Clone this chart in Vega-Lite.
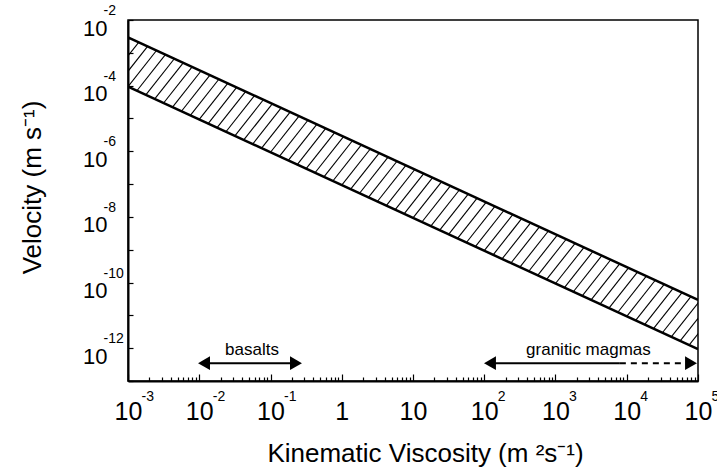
{
  "$schema": "https://vega.github.io/schema/vega-lite/v6.json",
  "width": 570,
  "height": 361,
  "autosize": "none",
  "padding": {"left": 128, "top": 20, "right": 19, "bottom": 94},
  "background": "white",
  "config": {"view": {"stroke": "black", "strokeWidth": 1.5}, "font": "Liberation Sans"},
  "datasets": {
    "hatch": [
      {"x0":4.217e-4,"x1":1.0593e-3,"y0":2.2131e-4,"y1":2.7861e-3},
      {"x0":5.6234e-4,"x1":1.4125e-3,"y0":1.6596e-4,"y1":2.0893e-3},
      {"x0":7.4989e-4,"x1":1.8837e-3,"y0":1.2445e-4,"y1":1.5668e-3},
      {"x0":1e-3,"x1":2.5119e-3,"y0":9.3325e-5,"y1":1.1749e-3},
      {"x0":1.3335e-3,"x1":3.3497e-3,"y0":6.9984e-5,"y1":8.8105e-4},
      {"x0":1.7783e-3,"x1":4.4668e-3,"y0":5.2481e-5,"y1":6.607e-4},
      {"x0":2.3714e-3,"x1":5.9566e-3,"y0":3.9355e-5,"y1":4.9545e-4},
      {"x0":3.1623e-3,"x1":7.9433e-3,"y0":2.9512e-5,"y1":3.7154e-4},
      {"x0":4.217e-3,"x1":1.0593e-2,"y0":2.2131e-5,"y1":2.7861e-4},
      {"x0":5.6234e-3,"x1":1.4125e-2,"y0":1.6596e-5,"y1":2.0893e-4},
      {"x0":7.4989e-3,"x1":1.8837e-2,"y0":1.2445e-5,"y1":1.5668e-4},
      {"x0":1e-2,"x1":2.5119e-2,"y0":9.3325e-6,"y1":1.1749e-4},
      {"x0":1.3335e-2,"x1":3.3497e-2,"y0":6.9984e-6,"y1":8.8105e-5},
      {"x0":1.7783e-2,"x1":4.4668e-2,"y0":5.2481e-6,"y1":6.607e-5},
      {"x0":2.3714e-2,"x1":5.9566e-2,"y0":3.9355e-6,"y1":4.9545e-5},
      {"x0":3.1623e-2,"x1":7.9433e-2,"y0":2.9512e-6,"y1":3.7154e-5},
      {"x0":4.217e-2,"x1":1.0593e-1,"y0":2.2131e-6,"y1":2.7861e-5},
      {"x0":5.6234e-2,"x1":1.4125e-1,"y0":1.6596e-6,"y1":2.0893e-5},
      {"x0":7.4989e-2,"x1":1.8837e-1,"y0":1.2445e-6,"y1":1.5668e-5},
      {"x0":1e-1,"x1":2.5119e-1,"y0":9.3325e-7,"y1":1.1749e-5},
      {"x0":1.3335e-1,"x1":3.3497e-1,"y0":6.9984e-7,"y1":8.8105e-6},
      {"x0":1.7783e-1,"x1":4.4668e-1,"y0":5.2481e-7,"y1":6.607e-6},
      {"x0":2.3714e-1,"x1":5.9566e-1,"y0":3.9355e-7,"y1":4.9545e-6},
      {"x0":3.1623e-1,"x1":7.9433e-1,"y0":2.9512e-7,"y1":3.7154e-6},
      {"x0":4.217e-1,"x1":1.0593,"y0":2.2131e-7,"y1":2.7861e-6},
      {"x0":5.6234e-1,"x1":1.4125,"y0":1.6596e-7,"y1":2.0893e-6},
      {"x0":7.4989e-1,"x1":1.8837,"y0":1.2445e-7,"y1":1.5668e-6},
      {"x0":1,"x1":2.5119,"y0":9.3325e-8,"y1":1.1749e-6},
      {"x0":1.3335,"x1":3.3497,"y0":6.9984e-8,"y1":8.8105e-7},
      {"x0":1.7783,"x1":4.4668,"y0":5.2481e-8,"y1":6.607e-7},
      {"x0":2.3714,"x1":5.9566,"y0":3.9355e-8,"y1":4.9545e-7},
      {"x0":3.1623,"x1":7.9433,"y0":2.9512e-8,"y1":3.7154e-7},
      {"x0":4.217,"x1":10.593,"y0":2.2131e-8,"y1":2.7861e-7},
      {"x0":5.6234,"x1":14.125,"y0":1.6596e-8,"y1":2.0893e-7},
      {"x0":7.4989,"x1":18.837,"y0":1.2445e-8,"y1":1.5668e-7},
      {"x0":10,"x1":25.119,"y0":9.3325e-9,"y1":1.1749e-7},
      {"x0":13.335,"x1":33.497,"y0":6.9984e-9,"y1":8.8105e-8},
      {"x0":17.783,"x1":44.668,"y0":5.2481e-9,"y1":6.607e-8},
      {"x0":23.714,"x1":59.566,"y0":3.9355e-9,"y1":4.9545e-8},
      {"x0":31.623,"x1":79.433,"y0":2.9512e-9,"y1":3.7154e-8},
      {"x0":42.17,"x1":105.93,"y0":2.2131e-9,"y1":2.7861e-8},
      {"x0":56.234,"x1":141.25,"y0":1.6596e-9,"y1":2.0893e-8},
      {"x0":74.989,"x1":188.37,"y0":1.2445e-9,"y1":1.5668e-8},
      {"x0":100,"x1":251.19,"y0":9.3325e-10,"y1":1.1749e-8},
      {"x0":133.35,"x1":334.97,"y0":6.9984e-10,"y1":8.8105e-9},
      {"x0":177.83,"x1":446.68,"y0":5.2481e-10,"y1":6.607e-9},
      {"x0":237.14,"x1":595.66,"y0":3.9355e-10,"y1":4.9545e-9},
      {"x0":316.23,"x1":794.33,"y0":2.9512e-10,"y1":3.7154e-9},
      {"x0":421.7,"x1":1059.3,"y0":2.2131e-10,"y1":2.7861e-9},
      {"x0":562.34,"x1":1412.5,"y0":1.6596e-10,"y1":2.0893e-9},
      {"x0":749.89,"x1":1883.7,"y0":1.2445e-10,"y1":1.5668e-9},
      {"x0":1000,"x1":2511.9,"y0":9.3325e-11,"y1":1.1749e-9},
      {"x0":1333.5,"x1":3349.7,"y0":6.9984e-11,"y1":8.8105e-10},
      {"x0":1778.3,"x1":4466.8,"y0":5.2481e-11,"y1":6.607e-10},
      {"x0":2371.4,"x1":5956.6,"y0":3.9355e-11,"y1":4.9545e-10},
      {"x0":3162.3,"x1":7943.3,"y0":2.9512e-11,"y1":3.7154e-10},
      {"x0":4217,"x1":10593,"y0":2.2131e-11,"y1":2.7861e-10},
      {"x0":5623.4,"x1":14125,"y0":1.6596e-11,"y1":2.0893e-10},
      {"x0":7498.9,"x1":18837,"y0":1.2445e-11,"y1":1.5668e-10},
      {"x0":10000,"x1":25119,"y0":9.3325e-12,"y1":1.1749e-10},
      {"x0":13335,"x1":33497,"y0":6.9984e-12,"y1":8.8105e-11},
      {"x0":17783,"x1":44668,"y0":5.2481e-12,"y1":6.607e-11},
      {"x0":23714,"x1":59566,"y0":3.9355e-12,"y1":4.9545e-11},
      {"x0":31623,"x1":79433,"y0":2.9512e-12,"y1":3.7154e-11},
      {"x0":42170,"x1":105930,"y0":2.2131e-12,"y1":2.7861e-11},
      {"x0":56234,"x1":141250,"y0":1.6596e-12,"y1":2.0893e-11},
      {"x0":74989,"x1":188370,"y0":1.2445e-12,"y1":1.5668e-11},
      {"x0":100000,"x1":251190,"y0":9.3325e-13,"y1":1.1749e-11}
    ],
    "bounds": [
      {"edge":"lower","x":0.001,"y":9.3325e-5},
      {"edge":"lower","x":100000,"y":9.3325e-13},
      {"edge":"upper","x":0.001,"y":2.9512e-3},
      {"edge":"upper","x":100000,"y":2.9512e-11}
    ],
    "arrows": [
      {"name":"basalts","segment":"solid","from":0.01166,"to":0.2279,"v":3.5e-13},
      {"name":"granitic magmas","segment":"solid","from":120.4,"to":8000,"v":3.5e-13},
      {"name":"granitic magmas","segment":"dashed","from":8000,"to":79770,"v":3.5e-13}
    ],
    "heads": [
      {"dir":"left","x":0.01166,"v":3.5e-13},
      {"dir":"right","x":0.2279,"v":3.5e-13},
      {"dir":"left","x":120.4,"v":3.5e-13},
      {"dir":"right","x":79770,"v":3.5e-13}
    ],
    "labels": [
      {"text":"basalts","x":0.055,"v":6.2e-13},
      {"text":"granitic magmas","x":2900,"v":6.2e-13}
    ]
  },
  "resolve": {"axis": {"x": "independent", "y": "independent"}},
  "layer": [
    {
      "data": {"name": "hatch"},
      "mark": {"type": "rule", "clip": true, "color": "black", "strokeWidth": 1.1},
      "encoding": {
        "x": {
          "field": "x0", "type": "quantitative",
          "scale": {"type": "log", "domain": [0.001, 100000], "nice": false},
          "axis": {
            "orient": "bottom",
            "values": [0.001,0.002,0.003,0.004,0.005,0.006,0.007,0.008,0.009,0.01,0.02,0.03,0.04,0.05,0.06,0.07,0.08,0.09,0.1,0.2,0.3,0.4,0.5,0.6,0.7,0.8,0.9,1,2,3,4,5,6,7,8,9,10,20,30,40,50,60,70,80,90,100,200,300,400,500,600,700,800,900,1000,2000,3000,4000,5000,6000,7000,8000,9000,10000,20000,30000,40000,50000,60000,70000,80000,90000,100000],
            "labelExpr": "abs(log(datum.value)/LN10 - round(log(datum.value)/LN10)) < 0.001 ? (abs(datum.value - 1) < 0.001 ? '1' : '10') : ''",
            "labelFontSize": 25, "labelColor": "black", "labelBaseline": "alphabetic",
            "labelPadding": 45, "labelFlush": false, "labelOverlap": false, "labelBound": false,
            "domainColor": "black", "domainWidth": 2,
            "tickColor": "black", "tickWidth": 1.2,
            "tickSize": {"condition": {"test": "abs(log(datum.value)/LN10 - round(log(datum.value)/LN10)) < 0.001", "value": -7}, "value": -4},
            "grid": false,
            "title": "Kinematic Viscosity (m ²s⁻¹)",
            "titleFontSize": 26, "titleFontWeight": "normal", "titleColor": "black",
            "titleX": 297, "titleY": 80, "titleBaseline": "alphabetic"
          }
        },
        "x2": {"field": "x1"},
        "y": {
          "field": "y0", "type": "quantitative",
          "scale": {"type": "log", "domain": [1e-13, 0.01], "nice": false},
          "axis": {
            "orient": "left",
            "values": [1e-13,1e-12,1e-11,1e-10,1e-9,1e-8,1e-7,1e-6,1e-5,1e-4,1e-3,1e-2],
            "labelExpr": "round(log(datum.value)/LN10) % 2 == 0 ? '10' : ''",
            "labelFontSize": 22, "labelColor": "black", "labelAlign": "right", "labelBaseline": "alphabetic",
            "labelOffset": 15, "labelPadding": 26, "labelOverlap": false, "labelFlush": false, "labelBound": false,
            "domainColor": "black", "domainWidth": 2,
            "tickColor": "black", "tickWidth": 1.2, "tickSize": -5,
            "grid": false,
            "title": "Velocity (m s⁻¹)",
            "titleFontSize": 26, "titleFontWeight": "normal", "titleColor": "black",
            "titleX": -88, "titleY": 167, "titleBaseline": "alphabetic"
          }
        },
        "y2": {"field": "y1"}
      }
    },
    {
      "data": {"name": "bounds"},
      "mark": {"type": "line", "color": "black", "strokeWidth": 2.5, "clip": true},
      "encoding": {
        "x": {
          "field": "x", "type": "quantitative",
          "scale": {"type": "log", "domain": [0.001, 100000], "nice": false},
          "axis": {
            "orient": "bottom",
            "values": [0.001,0.01,0.1,100,1000,10000,100000],
            "labelExpr": "'' + round(log(datum.value)/LN10)",
            "labelFontSize": 14, "labelColor": "black", "labelAlign": "left", "labelBaseline": "alphabetic",
            "labelOffset": 13, "labelPadding": 19, "labelFlush": false, "labelOverlap": false, "labelBound": false,
            "domain": false, "ticks": false, "grid": false, "title": null
          }
        },
        "y": {
          "field": "y", "type": "quantitative",
          "scale": {"type": "log", "domain": [1e-13, 0.01], "nice": false},
          "axis": {
            "orient": "left",
            "values": [1e-12,1e-10,1e-8,1e-6,1e-4,1e-2],
            "labelExpr": "'' + round(log(datum.value)/LN10)",
            "labelFontSize": 14, "labelColor": "black", "labelAlign": "left", "labelBaseline": "alphabetic",
            "labelOffset": -5.5, "labelPadding": 25, "labelFlush": false, "labelOverlap": false, "labelBound": false,
            "domain": false, "ticks": false, "grid": false, "title": null
          }
        },
        "detail": {"field": "edge", "type": "nominal"}
      }
    },
    {
      "data": {"name": "arrows"},
      "mark": {"type": "rule", "color": "black", "strokeWidth": 2},
      "encoding": {
        "x": {"field": "from", "type": "quantitative", "scale": {"type": "log", "domain": [0.001, 100000], "nice": false}, "axis": null},
        "x2": {"field": "to"},
        "y": {"field": "v", "type": "quantitative", "scale": {"type": "log", "domain": [1e-13, 0.01], "nice": false}, "axis": null},
        "strokeDash": {"field": "segment", "type": "nominal", "scale": {"domain": ["solid", "dashed"], "range": [[1, 0], [6, 5]]}, "legend": null}
      }
    },
    {
      "data": {"name": "heads"},
      "mark": {"type": "point", "filled": true, "color": "black", "opacity": 1, "size": 190},
      "encoding": {
        "x": {"field": "x", "type": "quantitative", "scale": {"type": "log", "domain": [0.001, 100000], "nice": false}, "axis": null},
        "y": {"field": "v", "type": "quantitative", "scale": {"type": "log", "domain": [1e-13, 0.01], "nice": false}, "axis": null},
        "shape": {"field": "dir", "type": "nominal", "scale": {"domain": ["left", "right"], "range": ["triangle-left", "triangle-right"]}, "legend": null}
      }
    },
    {
      "data": {"name": "labels"},
      "mark": {"type": "text", "fontSize": 17, "color": "black", "align": "center", "baseline": "alphabetic", "font": "Liberation Sans"},
      "encoding": {
        "x": {"field": "x", "type": "quantitative", "scale": {"type": "log", "domain": [0.001, 100000], "nice": false}, "axis": null},
        "y": {"field": "v", "type": "quantitative", "scale": {"type": "log", "domain": [1e-13, 0.01], "nice": false}, "axis": null},
        "text": {"field": "text", "type": "nominal"}
      }
    }
  ]
}
